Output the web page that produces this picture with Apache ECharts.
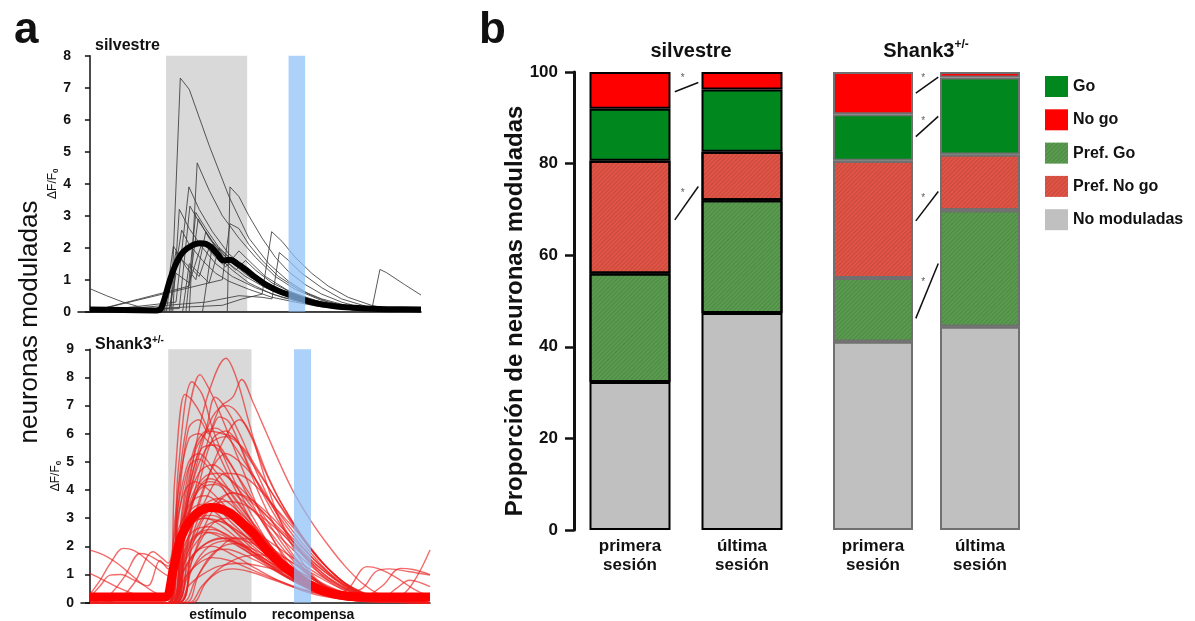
<!DOCTYPE html>
<html>
<head>
<meta charset="utf-8">
<script src="https://cdn.jsdelivr.net/npm/echarts@6/dist/echarts.min.js"></script>
<style>
  html, body { margin: 0; padding: 0; background: #fff; }
  #chart { width: 1195px; height: 621px; }
</style>
</head>
<body>
<div id="chart"></div>
<script>
// ---- panel a: single-neuron dF/F0 traces, time as % of trial window ----
const stimWindow = [23, 47.5]
const rewardWindow = [60, 65]

const wtTraces = [
  [[0,0],[24.5,0],[27.3,7.3],[30,6.95],[36,5.2],[42,3.6],[48,2.3],[54,1.5],[60,0.95],[66,0.55],[72,0.3],[80,0.12],[90,0.03],[100,0]],
  [[0,0],[30,0],[32.4,4.65],[36,3.8],[40,3.0],[45,2.3],[50,1.7],[56,1.1],[62,0.7],[70,0.35],[80,0.12],[90,0.02],[100,0]],
  [[0,0],[26,0.3],[29.9,3.9],[33,3.2],[37,2.5],[42,1.8],[48,1.3],[55,0.8],[62,0.45],[70,0.2],[80,0.05],[100,0]],
  [[0,0],[41.5,0],[42.3,3.9],[45,3.6],[48,3.0],[52,2.3],[56,1.7],[60,1.25],[65,0.85],[70,0.55],[76,0.3],[83,0.1],[90,0.03],[100,0]],
  [[0,0],[40,0.2],[46,0.4],[52,0.55],[54.9,2.5],[58,2.2],[62,1.7],[67,1.2],[72,0.8],[78,0.45],[85,0.2],[92,0.05],[100,0]],
  [[0,0],[35,0.3],[45,0.5],[52,0.45],[55,0.4],[57.2,1.85],[60,1.6],[64,1.2],[70,0.75],[76,0.4],[84,0.15],[92,0.04],[100,0]],
  [[0,0.72],[5,0.5],[10,0.3],[15,0.15],[20,0.05],[25,0],[85,0],[87.6,1.32],[89.6,1.22],[95,0.85],[100,0.52]],
  [[0,0],[27,0.1],[30.2,3.3],[33,2.8],[37,2.2],[42,1.6],[48,1.1],[55,0.7],[62,0.4],[70,0.2],[80,0.06],[100,0]],
  [[0,0],[30,0.8],[32.7,2.9],[36,2.3],[40,1.8],[45,1.4],[50,1.1],[56,0.75],[63,0.45],[72,0.2],[82,0.06],[100,0]],
  [[0,0],[36,0.9],[40,1.0],[42.3,2.75],[45,2.6],[48,2.1],[52,1.6],[57,1.1],[63,0.7],[70,0.4],[78,0.18],[88,0.05],[100,0]],
  [[0,0],[24,0.1],[27.7,2.55],[30,2.1],[34,1.6],[38,1.2],[42,0.95],[48,0.7],[55,0.45],[62,0.3],[70,0.15],[80,0.05],[100,0]],
  [[0,0],[22.5,0],[25.2,2.05],[28,1.6],[31,1.3],[33,1.1],[36,2.0],[39,1.7],[43,1.3],[48,0.9],[55,0.55],[62,0.35],[72,0.15],[85,0.04],[100,0]],
  [[0,0],[23,0],[26,1.9],[29,1.4],[32,1.0],[35,2.5],[38,2.0],[42,1.5],[47,1.1],[53,0.75],[60,0.45],[68,0.25],[78,0.1],[100,0]],
  [[0,0],[28,0],[30,1.5],[33,1.2],[36,0.9],[39,2.0],[42,1.7],[46,1.3],[52,0.85],[58,0.55],[66,0.3],[76,0.12],[100,0]],
  [[0,0],[24,0],[26,1.2],[30,0.9],[34,2.2],[37,1.8],[41,1.4],[45,1.9],[48,1.6],[53,1.1],[60,0.65],[68,0.35],[78,0.12],[100,0]],
  [[0,0],[29,0],[32,3.1],[35,2.6],[39,2.0],[44,1.5],[50,1.05],[57,0.7],[64,0.42],[72,0.22],[82,0.07],[100,0]],
  [[0,0],[25,0],[27,3.2],[30,2.6],[34,2.0],[38,1.5],[43,1.1],[50,0.75],[58,0.45],[66,0.25],[76,0.1],[100,0]],
  [[0,0],[34,0],[37,2.1],[40,1.7],[44,1.3],[47,1.6],[50,1.3],[55,0.9],[62,0.55],[70,0.3],[80,0.1],[100,0]]
]
const wtMean = [[0,0.07],[10,0.05],[20,0.04],[21.5,0.1],[24.2,1.0],[26,1.5],[28.2,1.87],[31,2.08],[33.2,2.14],[35,2.12],[36.8,2.0],[38.5,1.8],[40.3,1.6],[42.3,1.62],[44.5,1.5],[47.3,1.3],[50,1.07],[53.4,0.83],[57,0.65],[60.4,0.52],[63,0.42],[66.5,0.31],[70,0.23],[74.5,0.16],[80,0.12],[83.6,0.1],[90,0.08],[100,0.07]]

const shTraces = [
  [[0,0.05],[22,0.05],[25,3],[28,6],[32.4,8.1],[35,7.6],[38,6.8],[42,5.6],[46,4.4],[50,3.2],[55,2.0],[60,1.1],[66,0.5],[74,0.15],[85,0.02],[100,0]],
  [[0,0],[24,0],[27,2.5],[31,5.5],[35,7.5],[40,8.68],[43,8.0],[47,6.3],[51,4.6],[55,3.2],[60,1.9],[66,0.9],[73,0.35],[82,0.08],[100,0]],
  [[0,0],[24,0],[28,2.5],[33,5.0],[38,6.9],[42,7.3],[44.6,7.93],[48,7.1],[52,6.0],[56,4.9],[60,3.9],[65,2.9],[70,2.05],[75,1.3],[80,0.7],[85,0.3],[90,0.1],[100,0]],
  [[0,0.1],[22.5,0.1],[25,4.5],[27.9,7.4],[30,7.2],[33,6.6],[37,5.5],[42,4.2],[47,3.0],[53,1.8],[60,0.9],[68,0.35],[78,0.08],[100,0]],
  [[0,0],[23,0],[26,4.8],[30,7.85],[33,7.4],[36,6.2],[40,5.0],[45,3.7],[50,2.6],[56,1.5],[63,0.7],[72,0.22],[85,0.03],[100,0]],
  [[0,0],[24,0],[27,3.0],[31,5.4],[34,6.1],[36.8,7.3],[40,6.9],[44,6.0],[48,4.9],[53,3.6],[58,2.5],[64,1.5],[71,0.7],[80,0.2],[100,0]],
  [[0,0],[23,0],[26,3.5],[29,6.2],[32,6.5],[35,6.0],[38,6.6],[41,6.4],[45,5.3],[50,3.8],[55,2.6],[61,1.5],[68,0.65],[77,0.2],[100,0]],
  [[0,0],[24,0],[27,2.8],[31,5.0],[35,6.1],[39,6.0],[43,5.8],[47,4.8],[52,3.6],[57,2.6],[63,1.7],[70,0.9],[80,0.3],[100,0]],
  [[0,0],[25,0],[29,2.2],[34,4.2],[39,5.7],[44,6.5],[48,5.8],[52,4.6],[56,3.6],[61,2.6],[67,1.6],[75,0.7],[86,0.15],[100,0]],
  [[0,0],[24,0],[27,2.2],[30,4.5],[33,5.5],[37,5.6],[41,5.0],[46,3.9],[51,2.8],[57,1.7],[64,0.8],[72,0.3],[85,0.05],[100,0]],
  [[0,0],[23,0],[26,3.0],[29,4.8],[32,5.1],[36,4.6],[40,3.9],[45,3.0],[50,2.2],[56,1.4],[63,0.7],[72,0.25],[85,0.04],[100,0]],
  [[0,0],[25,0],[28,1.8],[32,3.6],[36,4.8],[40,5.3],[44,5.0],[48,4.5],[53,3.6],[58,2.8],[64,1.9],[71,1.0],[80,0.35],[92,0.05],[100,0]],
  [[0,0],[24,0],[27,2.0],[31,3.8],[35,4.4],[39,4.2],[43,3.6],[48,2.8],[54,1.9],[60,1.1],[67,0.5],[76,0.15],[100,0]],
  [[0,0],[26,0],[30,1.5],[34,2.8],[38,3.6],[42,3.9],[46,3.7],[51,3.2],[56,2.6],[62,1.9],[69,1.1],[78,0.4],[90,0.06],[100,0]],
  [[0,0],[23,0],[26,2.0],[29,3.2],[33,3.5],[37,3.2],[42,2.6],[47,2.0],[53,1.4],[60,0.8],[68,0.35],[78,0.1],[100,0]],
  [[0,0],[25,0],[29,1.2],[33,2.3],[37,2.9],[41,3.0],[45,2.8],[50,2.4],[56,1.9],[62,1.4],[70,0.8],[80,0.25],[100,0]],
  [[0,0],[24,0],[27,1.2],[31,2.1],[35,2.5],[39,2.4],[44,2.0],[50,1.5],[57,0.95],[65,0.5],[75,0.18],[88,0.03],[100,0]],
  [[0,0],[27,0],[31,0.8],[35,1.6],[39,2.0],[43,2.1],[48,1.9],[54,1.5],[60,1.05],[67,0.6],[76,0.25],[88,0.05],[100,0]],
  [[0,0],[24,0],[28,0.9],[32,1.4],[36,1.6],[41,1.5],[47,1.2],[54,0.85],[62,0.5],[72,0.2],[85,0.05],[100,0]],
  [[0,0],[30,0],[34,0.7],[38,1.1],[42,1.2],[47,1.1],[53,0.85],[60,0.55],[68,0.3],[78,0.1],[100,0]],
  [[0,0],[23,0],[26,1.8],[30,2.8],[34,3.0],[39,2.7],[45,2.1],[52,1.4],[60,0.8],[68,0.35],[78,0.1],[100,0]],
  [[0,0],[25,0],[29,1.4],[34,2.1],[39,2.3],[45,2.0],[52,1.5],[60,0.9],[68,0.45],[78,0.15],[100,0]],
  [[0,0],[24,0],[28,3.2],[32,4.6],[36,4.9],[41,4.4],[47,3.5],[53,2.5],[59,1.6],[66,0.8],[74,0.3],[85,0.06],[100,0]],
  [[0,0],[26,0],[30,2.3],[35,3.9],[40,4.6],[45,4.5],[50,4.0],[55,3.3],[61,2.5],[67,1.6],[75,0.7],[85,0.15],[100,0]],
  [[0,0],[28,0],[32,1.0],[37,1.8],[43,2.3],[49,2.2],[55,1.8],[62,1.2],[69,0.65],[78,0.25],[90,0.05],[100,0]],
  [[0,0],[25,0],[28,2.6],[32,4.2],[36,5.8],[40,6.1],[44,5.6],[48,4.9],[53,4.0],[58,3.1],[64,2.1],[71,1.1],[80,0.35],[100,0]],
  [[0,0],[24,0],[27,1.6],[31,2.4],[36,2.6],[42,2.3],[49,1.7],[57,1.0],[65,0.45],[75,0.12],[100,0]],
  [[0,0],[29,0],[33,0.6],[38,1.2],[44,1.6],[50,1.7],[56,1.5],[63,1.0],[71,0.5],[80,0.15],[100,0]],
  [[0,0],[23,0],[26,4.0],[29,5.8],[32,6.0],[35,5.7],[39,5.3],[44,4.4],[50,3.3],[56,2.2],[62,1.3],[70,0.5],[80,0.12],[100,0]],
  [[0,0],[24,0],[27,2.6],[31,4.6],[35,5.6],[40,5.9],[45,5.5],[50,4.6],[55,3.6],[60,2.7],[65,1.9],[71,1.1],[78,0.45],[86,0.12],[100,0]],
  [[0,0],[25,0],[28,1.5],[32,2.8],[37,3.6],[42,3.9],[47,3.7],[52,3.2],[57,2.6],[62,2.0],[68,1.3],[75,0.6],[84,0.15],[100,0]],
  [[0,0],[23,0],[26,2.2],[30,3.8],[34,4.5],[38,4.6],[43,4.2],[48,3.6],[54,2.8],[60,2.0],[66,1.3],[73,0.65],[82,0.2],[100,0]],
  [[0,0],[26,0],[30,2.0],[35,3.3],[40,3.6],[45,3.5],[50,3.1],[56,2.5],[62,1.8],[68,1.2],[75,0.6],[84,0.15],[100,0]],
  [[0,0],[24,0],[27,3.2],[30,5.2],[33,6.0],[37,6.2],[41,5.8],[46,4.9],[51,3.9],[56,3.0],[61,2.2],[67,1.4],[74,0.7],[83,0.2],[100,0]],
  [[0,0],[24,0],[27,1.0],[31,1.8],[36,2.2],[42,2.3],[48,2.1],[54,1.8],[60,1.4],[66,1.0],[73,0.55],[82,0.2],[100,0]],
  [[0,0],[23,0],[25.5,2.8],[28,4.0],[31,4.3],[35,4.0],[40,3.4],[46,2.6],[52,1.9],[58,1.3],[65,0.75],[73,0.35],[83,0.1],[100,0]],
  [[0,0],[25,0],[28,3.0],[32,5.2],[36,6.6],[40,7.0],[43,6.8],[47,6.0],[51,4.8],[55,3.8],[60,2.8],[65,1.9],[71,1.1],[78,0.45],[88,0.1],[100,0]],
  [[0,0],[24,0],[27,1.4],[30,2.2],[34,2.5],[39,2.3],[45,1.9],[52,1.4],[59,1.0],[66,0.6],[74,0.3],[84,0.08],[100,0]],
  [[0,0],[26,0],[29,0.6],[33,1.0],[38,1.3],[44,1.4],[50,1.3],[57,1.1],[64,0.8],[71,0.5],[79,0.22],[90,0.05],[100,0]],
  [[0,0],[24,0],[27,2.4],[31,3.9],[35,4.3],[40,4.1],[45,3.6],[51,2.9],[57,2.2],[63,1.5],[70,0.85],[78,0.35],[88,0.08],[100,0]],
  [[0,0],[23,0],[26,1.5],[29,2.6],[33,3.0],[38,2.9],[44,2.5],[50,2.0],[56,1.5],[63,1.0],[70,0.55],[79,0.2],[100,0]],
  [[0,1.87],[4,1.7],[8,1.4],[12,1.0],[16,0.6],[20,0.3],[23,0.2],[26,1.5],[30,2.5],[35,2.7],[40,2.4],[46,1.9],[53,1.3],[60,0.75],[68,0.35],[78,0.1],[100,0]],
  [[0,1.04],[4,0.8],[8,0.55],[12,0.35],[16,0.2],[20,0.1],[24,0.1],[27,1.0],[31,1.8],[36,2.0],[42,1.7],[49,1.2],[57,0.7],[66,0.3],[78,0.08],[100,0]],
  [[0,0.3],[3,0.8],[6,1.4],[9.8,1.93],[13,1.85],[17,1.5],[21,1.1],[24,0.9],[28,2.8],[32,4.0],[37,4.2],[42,3.6],[48,2.7],[55,1.7],[62,0.95],[70,0.4],[80,0.1],[100,0]],
  [[0,0],[5,0.2],[10,0.9],[14.7,1.75],[17,1.7],[20,1.5],[23,1.3],[26,2.6],[30,3.6],[34,3.8],[39,3.4],[45,2.6],[52,1.7],[60,0.9],[68,0.4],[78,0.1],[100,0]],
  [[0,0],[8,0.1],[13,0.7],[18.6,1.81],[21,1.6],[23,1.4],[26,3.5],[29,5.0],[32,5.3],[36,4.8],[41,4.0],[47,3.0],[54,1.9],[61,1.0],[69,0.4],[80,0.1],[100,0]],
  [[0,0.2],[3,0.6],[5.9,0.98],[9,1.0],[13,0.8],[17,0.6],[20.6,1.5],[23,1.2],[27,2.2],[31,3.0],[36,3.1],[42,2.6],[49,1.9],[57,1.1],[65,0.5],[75,0.15],[100,0]],
  [[0,0],[24,0],[28,1.6],[33,2.6],[38,2.9],[44,2.5],[51,1.8],[58,1.1],[65,0.6],[72,0.3],[76,0.5],[81.4,1.28],[85,1.2],[90,0.9],[95,0.5],[100,0.2]],
  [[0,0],[25,0],[29,1.0],[34,1.7],[40,1.9],[47,1.6],[55,1.1],[63,0.6],[72,0.3],[80,0.2],[86,0.6],[91.2,1.22],[95,1.18],[100,1.0]],
  [[0,0],[24,0],[28,2.0],[33,3.4],[38,3.7],[44,3.2],[51,2.3],[58,1.4],[66,0.7],[75,0.3],[85,0.15],[92,0.3],[96,0.9],[100,1.87]],
  [[0,0],[26,0],[30,1.2],[35,2.0],[41,2.2],[48,1.8],[56,1.2],[64,0.6],[73,0.3],[80,0.5],[84,1.1],[88,1.2],[94,1.1],[100,0.98]],
  [[0,0],[23,0],[27,2.3],[31,3.3],[36,3.4],[42,2.8],[49,2.0],[57,1.2],[65,0.6],[75,0.25],[85,0.1],[90,0.5],[94,0.8],[100,0.57]]
]
const shMean = [[0,0.2],[10,0.2],[20,0.2],[22.5,0.22],[24.5,1.2],[26.5,2.23],[28.5,2.75],[30.4,3.06],[33,3.3],[35.3,3.38],[38,3.35],[41.2,3.18],[44.5,2.85],[48,2.46],[50.5,2.1],[52.9,1.75],[56,1.4],[59.8,1.04],[62.5,0.8],[65.7,0.57],[69,0.4],[73.5,0.27],[78,0.21],[85,0.2],[100,0.2]]

// ---- panel b: proportion of modulated neurons (%) ----
const sessions = ['primera\nsesión', 'última\nsesión']
const wtNoMod = [32.3, 47.4]
const wtPrefGo = [23.7, 24.6]
const wtPrefNoGo = [24.6, 10.6]
const wtGo = [11.4, 13.6]
const wtNoGo = [8.0, 3.8]
const shNoMod = [41.1, 44.4]
const shPrefGo = [13.9, 25.4]
const shPrefNoGo = [25.6, 12.2]
const shGo = [10.2, 16.8]
const shNoGo = [9.2, 1.2]
// significance connectors: [from value, to value, asterisk value]
const wtSig = [[95.7, 97.7, 98.6], [67.7, 75.0, 73.6]]
const shSig = [[95.4, 98.9, 98.6], [85.9, 90.3, 89.2], [67.5, 73.9, 72.5], [46.2, 58.2, 54.0]]

const FONT = 'Liberation Sans, Arial, sans-serif'
const chart = echarts.init(document.getElementById('chart'))

const hatch = {
  symbol: 'rect', symbolSize: 1, dashArrayX: [[1, 0]], dashArrayY: [1, 2],
  rotation: -Math.PI / 4, color: 'rgba(0,0,0,0.13)'
}
const segStyle = {
  'No moduladas': { color: '#c0c0c0' },
  'Pref. Go': { color: '#5a9c4f', decal: hatch },
  'Pref. No go': { color: '#e15446', decal: hatch },
  'Go': { color: '#00871e' },
  'No go': { color: '#ff0000' }
}

function traceLine(data, axis, color, width, smooth, z) {
  return {
    type: 'line', xAxisIndex: axis, yAxisIndex: axis, data,
    symbol: 'none', smooth, silent: true, z,
    lineStyle: { color, width, join: 'round' }
  }
}
// shaded time window as a full-height rect, positioned through the x scale
function band(axis, range, color, z) {
  return {
    type: 'custom', xAxisIndex: axis, yAxisIndex: axis, data: [range], z, silent: true,
    renderItem(params, api) {
      const a = api.coord([api.value(0), 0])
      const b = api.coord([api.value(1), 0])
      const cs = params.coordSys
      return { type: 'rect', shape: { x: a[0], y: cs.y, width: b[0] - a[0], height: cs.height }, style: { fill: color } }
    }
  }
}
function stackBars(stack, xIdx, yIdx, border, width, segs) {
  return segs.map(([name, vals]) => ({
    type: 'bar', name, stack, xAxisIndex: xIdx, yAxisIndex: yIdx, data: vals,
    barWidth: width, silent: true,
    itemStyle: Object.assign({ borderColor: border, borderWidth: 2 }, segStyle[name])
  }))
}
function sigMarks(sigs, xIdx, yIdx) {
  const out = []
  sigs.forEach(([a, b, s]) => {
    out.push({
      type: 'line', xAxisIndex: xIdx, yAxisIndex: yIdx, data: [[0.9, a], [1.11, b]],
      symbol: 'none', silent: true, lineStyle: { color: '#111', width: 1.5 }, z: 5
    })
    out.push({
      type: 'scatter', xAxisIndex: xIdx, yAxisIndex: yIdx, data: [[0.97, s]],
      symbolSize: 0, silent: true, z: 5,
      label: { show: true, position: 'inside', formatter: '*', fontSize: 10, color: '#333', fontFamily: FONT }
    })
  })
  return out
}

const dfName = {
  name: '{m|ΔF/F}{s|0}', nameLocation: 'middle', nameRotate: 90, nameGap: 17,
  nameTextStyle: {
    rich: {
      m: { fontSize: 12, fontFamily: FONT, color: '#111', lineHeight: 14 },
      s: { fontSize: 8, fontFamily: FONT, color: '#111', lineHeight: 8, verticalAlign: 'bottom', fontWeight: 'bold' }
    }
  }
}
const traceY = (max, gi) => Object.assign({
  type: 'value', gridIndex: gi, min: 0, max, interval: 1,
  axisLine: { show: true, lineStyle: { color: '#111', width: 1.5 } },
  axisTick: { show: true, length: 5, lineStyle: { color: '#111', width: 1.5 } },
  axisLabel: { fontSize: 14, fontWeight: 'bold', color: '#111', fontFamily: FONT, margin: 7 },
  splitLine: { show: false }
}, dfName)
const traceX = (min, gi) => ({
  type: 'value', gridIndex: gi, min, max: 100,
  axisLine: { show: true, onZero: false, lineStyle: { color: '#111', width: 1.5 } },
  axisTick: { show: false }, axisLabel: { show: false }, splitLine: { show: false }
})
const sessionX = gi => ({
  type: 'category', gridIndex: gi, data: sessions,
  axisLine: { show: false }, axisTick: { show: false },
  axisLabel: { fontSize: 17, fontWeight: 'bold', color: '#111', fontFamily: FONT, lineHeight: 19, margin: 7 }
})
const hiddenX = gi => ({ type: 'value', gridIndex: gi, min: 0, max: 2, show: false })

const sup = { fontFamily: FONT, fontWeight: 'bold', color: '#111' }

const series = [
  band(0, stimWindow, '#d9d9d9', 0),
  band(1, stimWindow, '#d9d9d9', 0),
  ...wtTraces.map(t => traceLine(t, 0, 'rgba(60,60,60,0.85)', 1, false, 2)),
  traceLine(wtMean, 0, '#000', 6, 0.3, 3),
  ...shTraces.map(t => traceLine(t, 1, 'rgba(235,30,30,0.66)', 1.4, 0.35, 2)),
  traceLine(shMean, 1, '#ff0000', 9, 0.3, 3),
  band(0, rewardWindow, 'rgba(140,192,248,0.72)', 10),
  band(1, rewardWindow, 'rgba(140,192,248,0.72)', 10),
  ...stackBars('wt', 2, 2, '#000', 81, [
    ['No moduladas', wtNoMod], ['Pref. Go', wtPrefGo], ['Pref. No go', wtPrefNoGo], ['Go', wtGo], ['No go', wtNoGo]
  ]),
  ...stackBars('sh', 4, 3, '#707070', 80, [
    ['No moduladas', shNoMod], ['Pref. Go', shPrefGo], ['Pref. No go', shPrefNoGo], ['Go', shGo], ['No go', shNoGo]
  ]),
  ...sigMarks(wtSig, 3, 2),
  ...sigMarks(shSig, 5, 3)
]

chart.setOption({
  animation: false,
  textStyle: { fontFamily: FONT },
  title: [
    { text: 'a', left: 9, top: 4, textStyle: { fontSize: 44, fontWeight: 'bold', color: '#111', fontFamily: FONT } },
    { text: 'b', left: 474, top: 4, textStyle: { fontSize: 44, fontWeight: 'bold', color: '#111', fontFamily: FONT } },
    { text: 'silvestre', left: 90, top: 33, textStyle: { fontSize: 16, fontWeight: 'bold', color: '#111', fontFamily: FONT } },
    { text: '{a|Shank3}{b|+/-}', left: 90, top: 330, textStyle: { rich: {
      a: Object.assign({ fontSize: 16, lineHeight: 20 }, sup), b: Object.assign({ fontSize: 10, lineHeight: 10, verticalAlign: 'top' }, sup) } } },
    { text: 'silvestre', left: 686, top: 36, textAlign: 'center', textStyle: { fontSize: 20, fontWeight: 'bold', color: '#111', fontFamily: FONT } },
    { text: '{a|Shank3}{b|+/-}', left: 921, top: 34, textAlign: 'center', textStyle: { rich: {
      a: Object.assign({ fontSize: 20, lineHeight: 24 }, sup), b: Object.assign({ fontSize: 12, lineHeight: 12, verticalAlign: 'top' }, sup) } } },
    { text: 'estímulo', left: 213, top: 603, textAlign: 'center', textStyle: { fontSize: 14, fontWeight: 'bold', color: '#111', fontFamily: FONT } },
    { text: 'recompensa', left: 308, top: 603, textAlign: 'center', textStyle: { fontSize: 14, fontWeight: 'bold', color: '#111', fontFamily: FONT } }
  ],
  graphic: [
    { type: 'text', x: 30, y: 322, rotation: Math.PI / 2, silent: true,
      style: { text: 'neuronas moduladas', fontSize: 26, fontFamily: FONT, fill: '#111', align: 'center', verticalAlign: 'middle' } },
    { type: 'text', x: 515, y: 311, rotation: Math.PI / 2, silent: true,
      style: { text: 'Proporción de neuronas moduladas', fontSize: 24, fontWeight: 'bold', fontFamily: FONT, fill: '#111', align: 'center', verticalAlign: 'middle' } }
  ],
  legend: {
    data: ['Go', 'No go', 'Pref. Go', 'Pref. No go', 'No moduladas'],
    orient: 'vertical', left: 1040, top: 71, icon: 'rect',
    itemWidth: 23, itemHeight: 21, itemGap: 12.3, itemStyle: { borderWidth: 0 },
    textStyle: { fontSize: 16, fontWeight: 'bold', color: '#111', fontFamily: FONT }
  },
  grid: [
    { left: 78, top: 55.7, width: 343, height: 256 },
    { left: 81, top: 349.3, width: 349, height: 253.4 },
    { left: 574, top: 72, width: 224, height: 458 },
    { left: 819.5, top: 72, width: 214, height: 458 }
  ],
  xAxis: [traceX(-3.6, 0), traceX(-2.65, 1), sessionX(2), hiddenX(2), sessionX(3), hiddenX(3)],
  yAxis: [
    traceY(8, 0),
    traceY(9, 1),
    {
      type: 'value', gridIndex: 2, min: 0, max: 100, interval: 20, offset: 3,
      axisLine: { show: true, lineStyle: { color: '#111', width: 3 } },
      axisTick: { show: true, length: 9, lineStyle: { color: '#111', width: 2.5 } },
      axisLabel: { fontSize: 17, fontWeight: 'bold', color: '#111', fontFamily: FONT, margin: 13 },
      splitLine: { show: false }
    },
    { type: 'value', gridIndex: 3, min: 0, max: 100, show: false }
  ],
  series
})
</script>
</body>
</html>
